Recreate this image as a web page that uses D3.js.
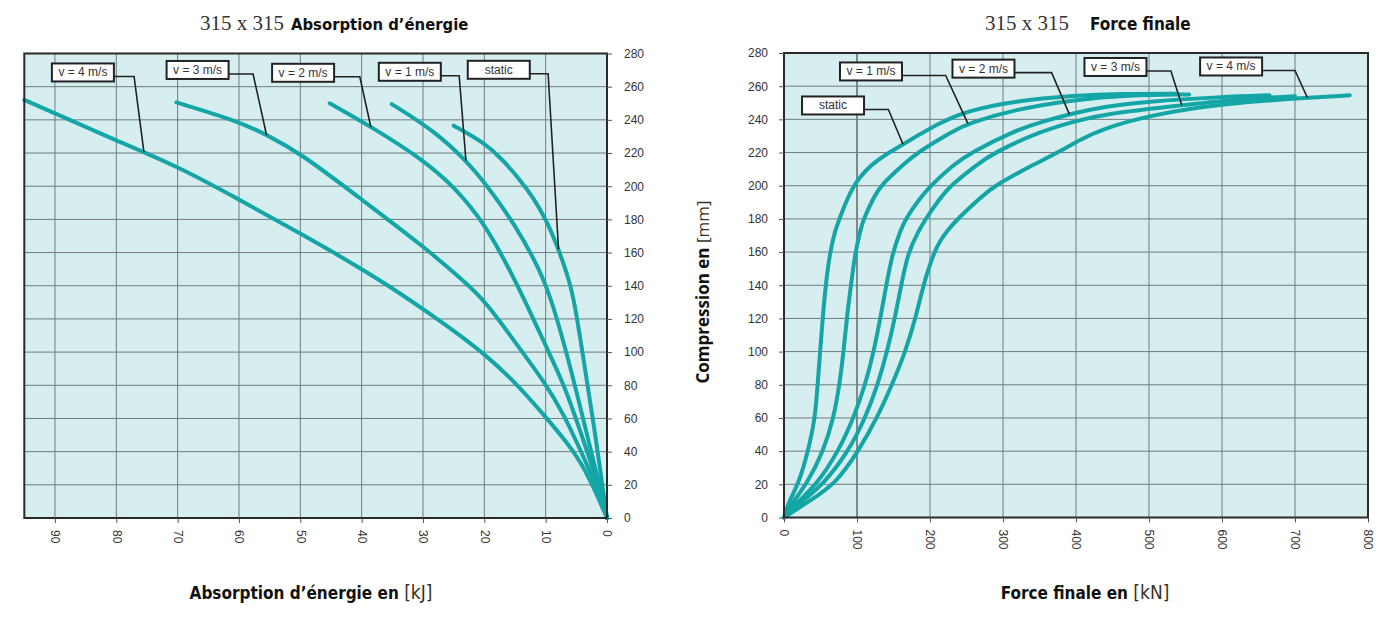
<!DOCTYPE html>
<html>
<head>
<meta charset="utf-8">
<script src="https://cdn.jsdelivr.net/npm/d3@7"></script>
<style>
    body { margin: 0; background: #fff; }
    svg { display: block; }
    .tick text { font-family: "Liberation Sans", Arial, sans-serif; font-size: 12px; fill: #333; }
    .tick line { stroke: #555; }
    .domain { display: none; }
    .callout text { font-family: "Liberation Sans", Arial, sans-serif; font-size: 12px; fill: #333; }
</style>
</head>
<body>
<svg id="chart" width="1393" height="621"></svg>
<script>
// series shared by both panels
var seriesNames = ['static', 'v = 1 m/s', 'v = 2 m/s', 'v = 3 m/s', 'v = 4 m/s'];

// left panel: energy [kJ] vs compression [mm]
var energyTicks = [0, 10, 20, 30, 40, 50, 60, 70, 80, 90];
var compressionTicks = [0, 20, 40, 60, 80, 100, 120, 140, 160, 180, 200, 220, 240, 260, 280];

var energyStatic = [[0,0],[2.2,58],[4.1,102],[5.2,128],[6.2,144],[7.9,162],[9.8,179],[12,193],[14,203],[17,216],[19.9,226],[25,236.5]];
var energyV1 = [[0,0],[1.5,24],[3.9,60],[6.6,100],[9,131],[11,150],[15,177],[19.9,202],[22.6,214],[28,233],[35.1,249.5]];
var energyV2 = [[0,0],[2,27],[4.6,55],[6.5,75],[8,88],[10,104],[13.4,131],[15.5,147],[20,178],[25,200],[30,216],[38.5,236],[45.2,250]];
var energyV3 = [[0,0],[2,22],[4.6,43],[7,62],[10,81],[15,106],[19.9,131],[23.4,143],[30,164],[40,192],[50,220],[55.5,231],[60,239],[70.2,250.5]];
var energyV4 = [[0,0],[2,17],[4.6,37],[10,61],[15,82],[20,99],[25,113],[30,126],[35,138.5],[40,150],[45,161],[50,171.5],[60,192],[70,212],[80,227.5],[90,244],[95,252]];

// right panel: final force [kN] vs compression [mm]
var forceTicks = [0, 100, 200, 300, 400, 500, 600, 700, 800];

var forceStatic = [[0,0],[7,10],[19.7,20],[33,40],[42.7,60],[46,80],[49.5,100],[53,120],[57,140],[63,160],[70,173],[76,180],[93,200],[120,213],[140,219],[163,225],[215,238.5],[251,245],[315,251],[400,254.5],[460,255.5],[540,255.5]];
var forceV1 = [[0,0],[13,10],[31,20],[54,40],[68,60],[76,80],[81.6,100],[86,120],[91.7,140],[97.7,160],[104.5,173],[109,180],[123,193],[132,200],[164,213],[182.5,220],[233,233.4],[252,237.4],[315,246],[400,252],[470,254.5],[555,255]];
var forceV2 = [[0,0],[20,10],[45,20],[74.7,40],[95.3,60],[111.4,80],[122.9,100],[132,120],[140,140],[149,160],[159.6,173],[166.4,180],[187,193],[200.8,200],[233,213],[256,220],[315,233],[352,238.5],[400,244],[435,247.5],[500,251],[600,253.5],[665,254.5]];
var forceV3 = [[0,0],[25,10],[54,20],[88.4,40],[111.4,60],[128.4,80],[141.3,100],[151.8,120],[160.5,140],[170,160],[184.7,173],[194,180],[214.6,193],[228,200],[265,213],[288,220],[352,233],[400,239],[435,243],[545,248.5],[620,252],[700,254]];
var forceV4 = [[0,0],[35,10],[70,20],[102,40],[127.5,60],[148,80],[166.4,100],[180,120],[191,140],[198,150],[206,160],[214,167],[223.8,173],[237.6,180],[269.6,193],[288,200],[343,213],[375,220],[407,228],[435,234],[500,242.5],[600,249.5],[717,253],[775,254.5]];

// callouts: box corner, knee of the leader and the point on the curve, in data units
var energyCallouts = [
    {label: 'v = 4 m/s', box: [90.5, 274], knee: 77.1, target: [75.5, 220.6]},
    {label: 'v = 3 m/s', box: [71.8, 275.5], knee: 57.7, target: [55.5, 230.7]},
    {label: 'v = 2 m/s', box: [54.6, 273.8], knee: 40.3, target: [38.5, 235.7]},
    {label: 'v = 1 m/s', box: [37.2, 274.4], knee: 24.1, target: [23, 215.5]},
    {label: 'static', box: [22.7, 275.6], knee: 9.6, target: [7.9, 162]}
];
var forceCallouts = [
    {label: 'static', box: [24.7, 253.8], knee: 143, target: [163, 225]},
    {label: 'v = 1 m/s', box: [76.7, 274.3], knee: 221.5, target: [252, 237.4]},
    {label: 'v = 2 m/s', box: [230.8, 276], knee: 366.6, target: [391, 243]},
    {label: 'v = 3 m/s', box: [411.6, 277], knee: 530, target: [545, 248.5]},
    {label: 'v = 4 m/s', box: [570, 277.3], knee: 700, target: [717, 253]}
];

var svg = d3.select('#chart');
var boldFont = '"DejaVu Sans Condensed", "DejaVu Sans", sans-serif';

function drawPanel(opt) {
    var x = d3.scaleLinear().domain(opt.xDomain).range([opt.left, opt.right]);
    var y = d3.scaleLinear().domain([0, 280]).range([opt.bottom, opt.top]);
    var g = svg.append('g');

    g.append('rect')
        .attr('x', opt.left)
        .attr('y', opt.top)
        .attr('width', opt.right - opt.left)
        .attr('height', opt.bottom - opt.top)
        .attr('fill', '#d6eef0');

    // grid
    g.selectAll('.vgrid')
        .data(opt.xTicks.filter(function(d) { return x(d) > opt.left + 2 && x(d) < opt.right - 2; }))
        .enter().append('line')
        .attr('x1', function(d) { return x(d); })
        .attr('x2', function(d) { return x(d); })
        .attr('y1', opt.top)
        .attr('y2', opt.bottom)
        .attr('stroke', function(d) { return d === opt.darkLine ? '#222' : '#6e7c7d'; })
        .attr('stroke-width', 1);

    g.selectAll('.hgrid')
        .data(compressionTicks.slice(1, -1))
        .enter().append('line')
        .attr('x1', opt.left)
        .attr('x2', opt.right)
        .attr('y1', function(d) { return y(d); })
        .attr('y2', function(d) { return y(d); })
        .attr('stroke', '#6e7c7d')
        .attr('stroke-width', 1);

    // curves
    var line = d3.line()
        .x(function(d) { return x(d[0]); })
        .y(function(d) { return y(d[1]); })
        .curve(d3.curveBasis);

    g.selectAll('.curve')
        .data(opt.curves)
        .enter().append('path')
        .attr('d', line)
        .attr('fill', 'none')
        .attr('stroke', '#14a5a6')
        .attr('stroke-width', 4)
        .attr('stroke-linecap', 'round')
        .attr('stroke-linejoin', 'round');

    // callouts
    var boxW = 62, boxH = 18;
    var c = g.selectAll('.callout')
        .data(opt.callouts)
        .enter().append('g')
        .classed('callout', true);

    c.append('path')
        .attr('d', function(d) {
            var bx = x(d.box[0]) + boxW, by = y(d.box[1]) + 13;
            return 'M' + bx + ',' + by + 'L' + x(d.knee) + ',' + by + 'L' + x(d.target[0]) + ',' + y(d.target[1]);
        })
        .attr('fill', 'none')
        .attr('stroke', '#222')
        .attr('stroke-width', 1.6);

    c.append('rect')
        .attr('x', function(d) { return x(d.box[0]); })
        .attr('y', function(d) { return y(d.box[1]); })
        .attr('width', boxW)
        .attr('height', boxH)
        .attr('fill', '#fff')
        .attr('stroke', '#222')
        .attr('stroke-width', 2);

    c.append('text')
        .attr('x', function(d) { return x(d.box[0]) + boxW / 2; })
        .attr('y', function(d) { return y(d.box[1]) + boxH / 2 + 4; })
        .attr('text-anchor', 'middle')
        .text(function(d) { return d.label; });

    // frame
    g.append('rect')
        .attr('x', opt.left)
        .attr('y', opt.top)
        .attr('width', opt.right - opt.left)
        .attr('height', opt.bottom - opt.top)
        .attr('fill', 'none')
        .attr('stroke', '#2a2a2a')
        .attr('stroke-width', 2);

    // axes
    var xAxis = g.append('g')
        .attr('transform', 'translate(0,' + opt.bottom + ')')
        .call(d3.axisBottom(x).tickValues(opt.xTicks).tickSize(5).tickFormat(d3.format('d')));
    xAxis.selectAll('text')
        .attr('transform', 'rotate(90)')
        .attr('x', 12)
        .attr('y', 0)
        .attr('dy', '0.35em')
        .style('text-anchor', 'start');

    var yAxis = opt.yRight ? d3.axisRight(y) : d3.axisLeft(y);
    g.append('g')
        .attr('transform', 'translate(' + (opt.yRight ? opt.right : opt.left) + ',0)')
        .call(yAxis.tickValues(compressionTicks).tickSize(5).tickPadding(opt.yRight ? 12 : 11));

    // title
    g.append('text')
        .attr('x', opt.titleX[0])
        .attr('y', 30)
        .attr('font-family', '"Liberation Serif", "Times New Roman", serif')
        .attr('font-size', 21)
        .attr('fill', '#333')
        .text('315 x 315');
    g.append('text')
        .attr('x', opt.titleX[1])
        .attr('y', 30)
        .attr('font-family', boldFont)
        .attr('font-weight', 'bold')
        .attr('font-size', opt.titleSize)
        .attr('fill', '#111')
        .text(opt.title);

    // x axis title
    var xt = g.append('text')
        .attr('x', opt.xTitleX)
        .attr('y', 599)
        .attr('text-anchor', 'middle')
        .attr('font-family', boldFont)
        .attr('font-size', 17)
        .attr('fill', '#111');
    xt.append('tspan').attr('font-weight', 'bold').text(opt.xTitle + ' ');
    xt.append('tspan').attr('fill', '#3a3024').attr('font-size', 19).text(opt.xUnit);

    return {x: x, y: y};
}

drawPanel({
    left: 24.3, right: 607, top: 53.5, bottom: 518,
    xDomain: [95, 0], xTicks: energyTicks, yRight: true,
    curves: [energyStatic, energyV1, energyV2, energyV3, energyV4],
    callouts: energyCallouts,
    title: 'Absorption d\u2019énergie', titleX: [200, 291], titleSize: 16.5,
    xTitle: 'Absorption d\u2019énergie en', xUnit: '[kJ]', xTitleX: 311
});

drawPanel({
    left: 784, right: 1368, top: 53, bottom: 517.5,
    xDomain: [0, 800], xTicks: forceTicks, yRight: false, darkLine: 100,
    curves: [forceStatic, forceV1, forceV2, forceV3, forceV4],
    callouts: forceCallouts,
    title: 'Force finale', titleX: [985, 1090], titleSize: 17,
    xTitle: 'Force finale en', xUnit: '[kN]', xTitleX: 1085
});

// y axis title of the right panel
var yt = svg.append('text')
    .attr('transform', 'translate(709,292) rotate(-90)')
    .attr('text-anchor', 'middle')
    .attr('font-family', '"Open Sans", "DejaVu Sans", sans-serif')
    .attr('font-size', 17)
    .attr('fill', '#111');
yt.append('tspan').attr('font-weight', 'bold').text('Compression en ');
yt.append('tspan').attr('fill', '#3a3024').text('[mm]');
</script>
</body>
</html>
